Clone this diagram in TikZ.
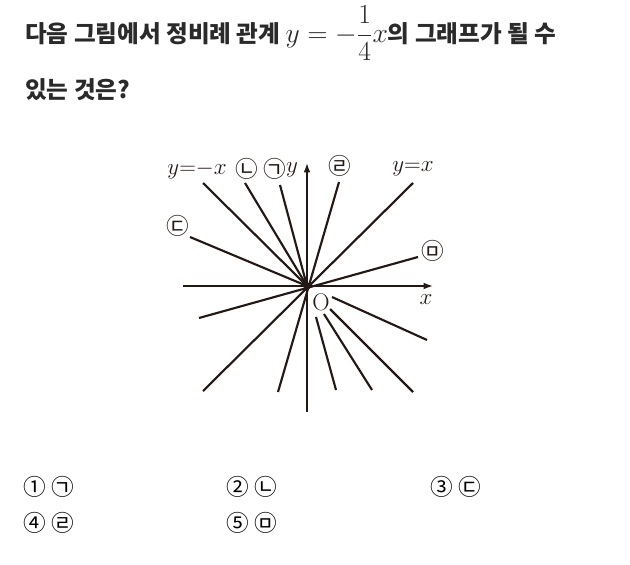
\documentclass[tikz,border=0pt]{standalone}
\usepackage{fontspec}
\usepackage{amsmath}
\usepackage{tikz}
\usetikzlibrary{arrows.meta,calc,positioning}
\newfontfamily\kr{Noto Sans CJK KR}
\definecolor{ink}{HTML}{231815}
\definecolor{texte}{HTML}{2A2A2A}
\newcommand{\grandmath}[1]{{\fontsize{22}{24}\selectfont #1}}

\begin{document}
\begin{tikzpicture}[
		x=0.75pt, y=-0.75pt,
		trait/.style={draw=ink, line width=1.6pt},
		axe/.style={draw=ink, line width=1.1pt, -{Latex[length=7pt,width=5pt]}},
		etiq/.style={inner sep=0pt, text=ink, font=\fontsize{18}{20}\selectfont},
		lettre/.style={inner sep=0pt, text=ink, font=\kr\fontsize{17}{19}\selectfont},
		choix/.style={anchor=west, inner sep=0pt, text=black, font=\kr\fontsize{17}{19}\selectfont},
		enonce/.style={anchor=base west, inner sep=0pt, text=texte, font=\kr\bfseries\fontsize{17.7}{21}\selectfont}
		]
	\useasboundingbox (0,0) rectangle (630,564);

		% --- Énoncé ---
		\node[enonce] (Q1) at (25,42) {다음 그림에서 정비례 관계 \grandmath{$y=-\dfrac{1}{4}x$}의 그래프가 될 수};
		\node[enonce] (Q2) at (25,98) {있는 것은?};

		% --- Repère ---
		\coordinate (O) at (307,286);
		\coordinate (X0) at (183,286);
		\coordinate (X1) at (433,286);
		\coordinate (Y0) at (307,412);
		\coordinate (Y1) at (307,163);

		% extrémités des droites
		\coordinate (Pa) at (413,183);  \coordinate (Pb) at (203,391);   % y=x
		\coordinate (Ma) at (203,183);  \coordinate (Mb) at (330,309);  \coordinate (Mc) at (413,392); % y=-x
		\coordinate (La) at (245,183);  \coordinate (Lb) at (324,314);  \coordinate (Lc) at (372,390); % ㄴ
		\coordinate (Ga) at (280,185);  \coordinate (Gb) at (316,317);  \coordinate (Gc) at (336,390); % ㄱ
		\coordinate (Ra) at (339,182);  \coordinate (Rb) at (278,392);   % ㄹ
		\coordinate (Ua) at (418,257);  \coordinate (Ub) at (199,318);   % ㅁ
		\coordinate (Da) at (190,237);  \coordinate (Db) at (332,297);  \coordinate (Dc) at (427,340); % ㄷ

		\draw[trait] (Pa) -- (Pb);
		\draw[trait] (Ma) -- (O);  \draw[trait] (Mb) -- (Mc);
		\draw[trait] (La) -- (O);  \draw[trait] (Lb) -- (Lc);
		\draw[trait] (Ga) -- (O);  \draw[trait] (Gb) -- (Gc);
		\draw[trait] (Ra) -- (Rb);
		\draw[trait] (Ua) -- (Ub);
		\draw[trait] (Da) -- (O);  \draw[trait] (Db) -- (Dc);

		\draw[axe] (X0) -- (X1);
		\draw[axe] (Y0) -- (Y1);
		\fill[ink] (O) circle (2.8pt);

		% --- Étiquettes ---
		\node[etiq] (lMx) at (197,170) {$y{=}{-}x$};
		\node[lettre] (lL) at (247,169) {㉡};
		\node[lettre] (lG) at (275,169) {㉠};
		\node[etiq] (ly) at (292,170) {$y$};
		\node[lettre] (lR) at (340,166) {㉣};
		\node[etiq] (lPx) at (413,169) {$y{=}x$};
		\node[lettre] (lD) at (178,226) {㉢};
		\node[lettre] (lU) at (433,251) {㉤};
		\node[etiq] (lx) at (426,300) {$x$};
		\node[etiq] (lO) at (321,302) {O};

		% --- Choix ---
		\node[choix] (c1) at (23,487) {①};  \node[choix, right=4pt of c1] (c1l) {㉠};
		\node[choix] (c2) at (226,487) {②}; \node[choix, right=4pt of c2] (c2l) {㉡};
		\node[choix] (c3) at (430,487) {③}; \node[choix, right=4pt of c3] (c3l) {㉢};
		\node[choix] (c4) at (23,523) {④};  \node[choix, right=4pt of c4] (c4l) {㉣};
		\node[choix] (c5) at (226,523) {⑤}; \node[choix, right=4pt of c5] (c5l) {㉤};

	\end{tikzpicture}
\end{document}
